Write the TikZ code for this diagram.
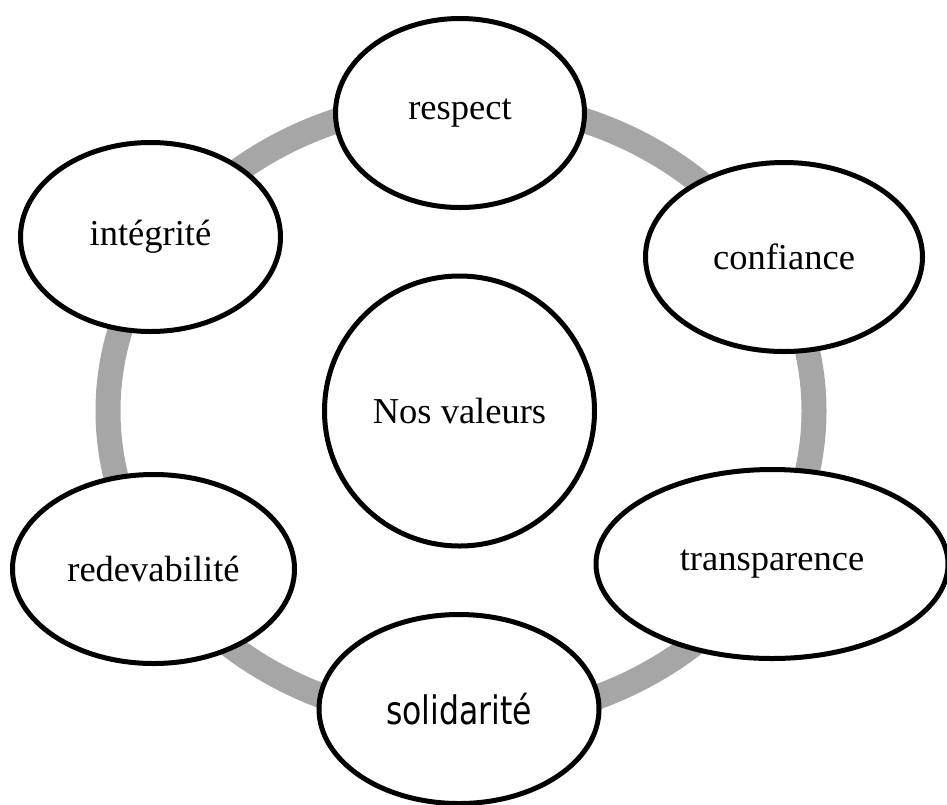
\documentclass[tikz,border=0pt]{standalone}
\usepackage{fontspec}
\setmainfont{Liberation Serif}
\newfontfamily\solfont{DejaVu Sans Condensed}
\usetikzlibrary{shapes.geometric}
\tikzset{
  ring/.style={draw=black!35, line width=25pt},
  val/.style={ellipse, draw=black, line width=5pt, fill=white, inner sep=0pt,
    minimum height=189pt, font=\fontsize{36.5}{40}\selectfont},
}
\begin{document}
\begin{tikzpicture}[x=1pt,y=1pt]
\useasboundingbox (0,0) rectangle (947,-804);
\draw[ring] (461,-411) ellipse [x radius=353, y radius=310];
\node[val, minimum width=249pt] (respect) at (460,-113) {respect};
\node[val, minimum width=277pt] (confiance) at (784,-257) {confiance};
\node[val, minimum width=352pt] (transparence) at (772,-564) {transparence};
\node[val, minimum width=280pt, font=\solfont\fontsize{35}{40}\selectfont] (solidarite) at (459,-709) {\scalebox{1}[1.12]{solidarité}};
\node[val, minimum width=282pt] (redevabilite) at (153.5,-569) {redevabilité};
\node[val, minimum width=260pt] (integrite) at (150.5,-237) {intégrité};
\node[val, minimum width=270pt, minimum height=270pt] (nos) at (459.5,-411) {Nos valeurs};
\end{tikzpicture}
\end{document}
